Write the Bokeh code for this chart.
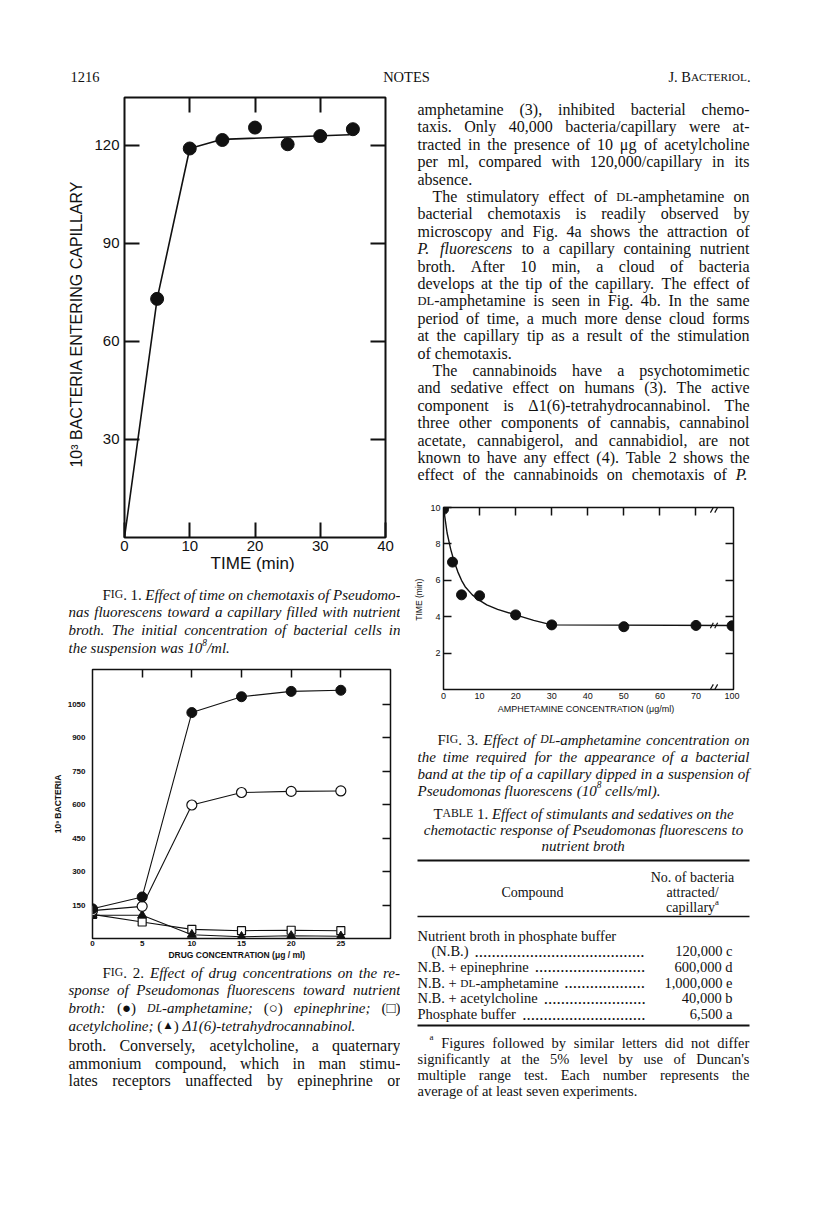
from bokeh.plotting import figure
from bokeh.models import Range1d, LinearAxis, FixedTicker
from bokeh.layouts import column, row
from bokeh.embed import file_html
from bokeh.resources import INLINE
from bokeh.core.properties import value

# ---------------- data ----------------
FIG1_TIME = [5, 10, 15, 20, 25, 30, 35]
FIG1_BACTERIA = [73, 119, 121.6, 125.4, 120.3, 122.8, 124.9]
FIG1_FIT_TIME = [0, 5, 10, 15, 34.5]
FIG1_FIT_BACTERIA = [0, 73, 119, 121.8, 123.2]
FIG1_XTICKS = [0, 10, 20, 30, 40]
FIG1_YTICKS = [30, 60, 90, 120]

FIG2_CONC = [0, 5, 10, 15, 20, 25]
FIG2_AMPHETAMINE = [133, 186, 1012, 1083, 1107, 1112]
FIG2_EPINEPHRINE = [125, 144, 598, 654, 659, 661]
FIG2_ACETYLCHOLINE = [108, 74, 41, 35, 37, 35]
FIG2_THC = [104, 104, 17, 8, 12, 10]
FIG2_XTICKS = [0, 5, 10, 15, 20, 25]
FIG2_YTICKS = [150, 300, 450, 600, 750, 900, 1050]

FIG3_CONC = [0, 2.5, 5, 10, 20, 30, 50, 70, 100]
FIG3_TIME = [9.9, 7.0, 5.2, 5.15, 4.1, 3.55, 3.45, 3.52, 3.5]
FIG3_FIT_CONC = [0, 1, 2, 3, 4, 5, 6, 8, 10, 12, 15, 20, 25, 30, 100]
FIG3_FIT_TIME = [10, 8.6, 7.7, 7.0, 6.45, 6.0, 5.65, 5.2, 4.9, 4.65, 4.4, 4.1, 3.8, 3.55, 3.52]
FIG3_XTICKS = [0, 10, 20, 30, 40, 50, 60, 70, 100]
FIG3_YTICKS = [2, 4, 6, 8, 10]
FIG3_BREAK = 75

TABLE_COMPOUNDS = ["Nutrient broth in phosphate buffer", "(N.B.)", "N.B. + epinephrine",
                   "N.B. + ~DL~-amphetamine", "N.B. + acetylcholine", "Phosphate buffer"]
TABLE_VALUES = [None, "120,000 c", "600,000 d", "1,000,000 e", "40,000 b", "6,500 a"]


def bx(c):
    """broken x axis of Fig. 3: 0-70 linear, 100 drawn at 80"""
    return c if c <= 70 else 70 + (c - 70) * 10.0 / 30.0


# ---------------- text engine (Times metrics) ----------------
_R = {' ': 250, '!': 333, '%': 833, "'": 180, '(': 333, ')': 333, '+': 564, ',': 250, '-': 333,
      '.': 250, '/': 278, ':': 278, ';': 278,
      'A': 722, 'B': 667, 'C': 667, 'D': 722, 'E': 611, 'F': 556, 'G': 722, 'H': 722, 'I': 333,
      'J': 389, 'K': 722, 'L': 611, 'M': 889, 'N': 722, 'O': 722, 'P': 556, 'Q': 722, 'R': 667,
      'S': 556, 'T': 611, 'U': 722, 'V': 722, 'W': 944, 'X': 722, 'Y': 722, 'Z': 611,
      'a': 444, 'b': 500, 'c': 444, 'd': 500, 'e': 444, 'f': 333, 'g': 500, 'h': 500, 'i': 278,
      'j': 278, 'k': 500, 'l': 278, 'm': 778, 'n': 500, 'o': 500, 'p': 500, 'q': 500, 'r': 333,
      's': 389, 't': 278, 'u': 500, 'v': 500, 'w': 722, 'x': 500, 'y': 500, 'z': 444,
      'μ': 576, 'Δ': 612, '●': 604, '○': 604, '□': 604, '▲': 990}
_I = {' ': 250, '(': 333, ')': 333, ',': 250, '-': 333, '.': 250, '/': 278, ':': 333, ';': 333,
      'A': 611, 'B': 611, 'C': 667, 'D': 722, 'E': 611, 'F': 611, 'G': 722, 'H': 722, 'I': 333,
      'J': 444, 'K': 667, 'L': 556, 'M': 833, 'N': 667, 'O': 722, 'P': 611, 'Q': 722, 'R': 611,
      'S': 500, 'T': 556, 'U': 722, 'V': 611, 'W': 833, 'X': 611, 'Y': 556, 'Z': 556,
      'a': 500, 'b': 500, 'c': 444, 'd': 500, 'e': 444, 'f': 278, 'g': 500, 'h': 500, 'i': 278,
      'j': 278, 'k': 444, 'l': 278, 'm': 722, 'n': 500, 'o': 500, 'p': 500, 'q': 500, 'r': 389,
      's': 389, 't': 278, 'u': 500, 'v': 444, 'w': 667, 'x': 444, 'y': 444, 'z': 389,
      'μ': 576, 'Δ': 612}

SERIF = "Liberation Serif"
SANS = "Liberation Sans"
INK = "#111111"


def cw(ch, it):
    t = _I if it else _R
    return t.get(ch, _R.get(ch, 500))


def parse(s):
    words, cur, buf = [], [], []
    st = {'it': False, 'sup': False, 'sc': False}

    def flush():
        if buf:
            cur.append((''.join(buf), st['it'], st['sup'], st['sc']))
            buf.clear()
    for ch in s:
        if ch in '_^~':
            flush()
            key = {'_': 'it', '^': 'sup', '~': 'sc'}[ch]
            st[key] = not st[key]
        elif ch == ' ':
            flush()
            if cur:
                words.append(list(cur))
                cur.clear()
        else:
            buf.append(ch)
    flush()
    if cur:
        words.append(list(cur))
    return words


def run_size(fs, sup, sc):
    return fs * (0.78 if sc else 1.0) * (0.62 if sup else 1.0)


def run_w(r, fs):
    t, it, sup, sc = r
    return sum(cw(c, it) for c in t) * run_size(fs, sup, sc) / 1000.0


class Sink:
    def __init__(self):
        self.g = {}

    def add(self, x, y, t, size, it):
        key = (round(size, 1), it)
        d = self.g.setdefault(key, {'x': [], 'y': [], 't': []})
        d['x'].append(x)
        d['y'].append(y)
        d['t'].append(t)

    def draw(self, p):
        for (size, it), d in self.g.items():
            p.text(x=d['x'], y=d['y'], text=d['t'], text_font=value(SERIF),
                   text_font_size=f"{size}px", text_font_style="italic" if it else "normal",
                   text_baseline="alphabetic", text_align="left", text_color=INK)


def put(sink, s, xl, xr, y, fs, mode='justify'):
    words = parse(s)
    ws = [sum(run_w(r, fs) for r in w) for w in words]
    n = len(words) - 1
    if mode == 'justify' and n > 0:
        gap = (xr - xl - sum(ws)) / n
        if gap < 0.2 * fs:
            fs = fs * (xr - xl - 0.2 * fs * n) / sum(ws)
            ws = [sum(run_w(r, fs) for r in w) for w in words]
            gap = (xr - xl - sum(ws)) / n
        x = xl
    else:
        gap = 0.25 * fs
        tot = sum(ws) + gap * n
        x = xl if mode in ('left', 'justify') else (xr - tot if mode == 'right' else (xl + xr) / 2 - tot / 2)
    for w, wd in zip(words, ws):
        xx = x
        for r in w:
            t, it, sup, sc = r
            sz = run_size(fs, sup, sc)
            sink.add(xx, y - (0.38 * fs if sup else 0), t, sz, it)
            xx += run_w(r, fs)
        x += wd + gap
    return x - gap


def text_fig(x0, y0, w, h):
    p = figure(width=w, height=h, x_range=Range1d(x0, x0 + w), y_range=Range1d(y0 + h, y0),
               x_axis_type=None, y_axis_type=None, toolbar_location=None,
               output_backend="svg", min_border=0, frame_align=False)
    p.outline_line_color = None
    p.background_fill_color = "white"
    p.border_fill_color = "white"
    return p


def style_axis(ax, ticks, tin, lw, size, font, show=True, standoff=4, bold=False):
    ax.ticker = FixedTicker(ticks=ticks)
    ax.major_tick_in = tin
    ax.major_tick_out = 0
    ax.major_tick_line_width = lw
    ax.major_tick_line_color = INK if tin else None
    ax.minor_tick_line_color = None
    ax.axis_line_color = None
    ax.major_label_text_font = font
    ax.major_label_text_color = INK if show else None
    ax.major_label_text_font_style = "bold" if bold else "normal"
    ax.major_label_text_font_size = size if show else "1px"
    ax.major_label_standoff = standoff if show else 0
    ax.axis_label_text_font = font
    ax.axis_label_text_font_style = "normal"
    ax.axis_label_text_color = INK


def chart(w, h, xr, yr, ml, mr, mt, mb, lw):
    p = figure(width=w, height=h, x_range=Range1d(*xr), y_range=Range1d(*yr),
               toolbar_location=None, output_backend="svg", frame_align=False,
               min_border_left=ml, min_border_right=mr, min_border_top=mt, min_border_bottom=mb)
    p.xgrid.visible = False
    p.ygrid.visible = False
    p.outline_line_color = INK
    p.outline_line_width = lw
    p.outline_line_alpha = 1.0
    p.background_fill_color = "white"
    p.border_fill_color = "white"
    return p


# ---------------- header ----------------
hdr = text_fig(8, 8, 800, 88)
s = Sink()
put(s, "1216", 78, 200, 84, 14.5, 'left')
put(s, "NOTES", 314, 514, 84, 14.5, 'center')
put(s, "J. B~ACTERIOL~.", 600, 758, 84, 14.5, 'right')
s.draw(hdr)

# ---------------- Fig. 1 ----------------
f1 = chart(400, 494, (0, 40), (0, 134.6), 124, 15, 9, 45, 2)
style_axis(f1.xaxis[0], FIG1_XTICKS, 15, 2, "15px", SANS, standoff=3)
style_axis(f1.yaxis[0], FIG1_YTICKS, 15, 2, "15px", SANS, standoff=5)
f1.xaxis[0].axis_label = "TIME  (min)"
f1.xaxis[0].axis_label_text_font_size = "17px"
f1.xaxis[0].axis_label_standoff = 0
f1.yaxis[0].axis_label = "10³  BACTERIA  ENTERING  CAPILLARY"
f1.yaxis[0].axis_label_text_font_size = "16px"
f1.yaxis[0].axis_label_standoff = 6
ax = LinearAxis()
style_axis(ax, FIG1_XTICKS[1:-1], 15, 2, "1px", SANS, show=False)
f1.add_layout(ax, "above")
ax = LinearAxis()
style_axis(ax, FIG1_YTICKS, 15, 2, "1px", SANS, show=False)
f1.add_layout(ax, "right")
f1.line(FIG1_FIT_TIME, FIG1_FIT_BACTERIA, line_color=INK, line_width=1.6)
f1.scatter(FIG1_TIME, FIG1_BACTERIA, size=13, marker="circle", fill_color=INK, line_color=INK)

# ---------------- Fig. 1 caption ----------------
c1 = text_fig(8, 590, 400, 74)
s = Sink()
L, Rr, fs = 76, 408, 15
cap1 = [("F~IG~. 1. _Effect of time on chemotaxis of Pseudomo-_", 'justify', 34),
        ("_nas fluorescens toward a capillary filled with nutrient_", 'justify', 0),
        ("_broth. The initial concentration of bacterial cells in_", 'justify', 0),
        ("_the suspension was 10^8^/ml._", 'left', 0)]
for i, (t, m, ind) in enumerate(cap1):
    put(s, t, L + ind, Rr, 602 + 17.8 * i, fs, m)
s.draw(c1)

# ---------------- Fig. 2 ----------------
f2 = chart(400, 306, (0, 30), (0, 1205), 92, 10, 13, 23, 1.5)
style_axis(f2.xaxis[0], FIG2_XTICKS, 0, 1.5, "8px", SANS, standoff=2, bold=True)
style_axis(f2.yaxis[0], FIG2_YTICKS, 0, 1.5, "8px", SANS, standoff=7, bold=True)
f2.xaxis[0].axis_label = "DRUG   CONCENTRATION   (μg / ml)"
f2.xaxis[0].axis_label_text_font_size = "8.5px"
f2.xaxis[0].axis_label_text_font_style = "bold"
f2.xaxis[0].axis_label_standoff = 1
f2.yaxis[0].axis_label = "10³ BACTERIA"
f2.yaxis[0].axis_label_text_font_size = "8.5px"
f2.yaxis[0].axis_label_text_font_style = "bold"
f2.yaxis[0].axis_label_standoff = 2
ax = LinearAxis()
style_axis(ax, FIG2_XTICKS[1:], 8, 1.5, "1px", SANS, show=False)
f2.add_layout(ax, "above")
ax = LinearAxis()
style_axis(ax, FIG2_YTICKS, 8, 1.5, "1px", SANS, show=False)
f2.add_layout(ax, "right")
for ys in (FIG2_THC, FIG2_ACETYLCHOLINE, FIG2_EPINEPHRINE, FIG2_AMPHETAMINE):
    f2.line(FIG2_CONC, ys, line_color=INK, line_width=1.1)
f2.scatter(FIG2_CONC, FIG2_ACETYLCHOLINE, marker="square", size=8, fill_color="white", line_color=INK, line_width=1.2)
f2.scatter(FIG2_CONC, FIG2_THC, marker="triangle", size=9, fill_color=INK, line_color=INK)
f2.scatter(FIG2_CONC, FIG2_EPINEPHRINE, marker="circle", size=10, fill_color="white", line_color=INK, line_width=1.2)
f2.scatter(FIG2_CONC, FIG2_AMPHETAMINE, marker="circle", size=10, fill_color=INK, line_color=INK)

# ---------------- Fig. 2 caption + text ----------------
t2 = text_fig(8, 970, 400, 239)
s = Sink()
cap2 = [("F~IG~. 2. _Effect of drug concentrations on the re-_", 'justify', 34),
        ("_sponse of Pseudomonas fluorescens toward nutrient_", 'justify', 0),
        ("_broth:_ (●) _~DL~-amphetamine;_ (○) _epinephrine;_ (□)", 'justify', 0),
        ("_acetylcholine;_ (~▲~) _Δ1(6)-tetrahydrocannabinol._", 'left', 0)]
for i, (t, m, ind) in enumerate(cap2):
    put(s, t, L + ind, Rr, 980 + 17.8 * i, fs, m)
body_l = ["broth. Conversely, acetylcholine, a quaternary",
          "ammonium compound, which in man stimu-",
          "lates receptors unaffected by epinephrine or"]
for i, t in enumerate(body_l):
    put(s, t, L, Rr, 1053 + 17.5 * i, 16, 'justify')
s.draw(t2)

# ---------------- right column text ----------------
RL, RR = 425, 757
t3 = text_fig(408, 96, 400, 394)
s = Sink()
body_r = [("amphetamine (3), inhibited bacterial chemo-", 'justify', 0),
          ("taxis. Only 40,000 bacteria/capillary were at-", 'justify', 0),
          ("tracted in the presence of 10 μg of acetylcholine", 'justify', 0),
          ("per ml, compared with 120,000/capillary in its", 'justify', 0),
          ("absence.", 'left', 0),
          ("The stimulatory effect of ~DL~-amphetamine on", 'justify', 15),
          ("bacterial chemotaxis is readily observed by", 'justify', 0),
          ("microscopy and Fig. 4a shows the attraction of", 'justify', 0),
          ("_P. fluorescens_ to a capillary containing nutrient", 'justify', 0),
          ("broth. After 10 min, a cloud of bacteria", 'justify', 0),
          ("develops at the tip of the capillary. The effect of", 'justify', 0),
          ("~DL~-amphetamine is seen in Fig. 4b. In the same", 'justify', 0),
          ("period of time, a much more dense cloud forms", 'justify', 0),
          ("at the capillary tip as a result of the stimulation", 'justify', 0),
          ("of chemotaxis.", 'left', 0),
          ("The cannabinoids have a psychotomimetic", 'justify', 15),
          ("and sedative effect on humans (3). The active", 'justify', 0),
          ("component is Δ1(6)-tetrahydrocannabinol. The", 'justify', 0),
          ("three other components of cannabis, cannabinol", 'justify', 0),
          ("acetate, cannabigerol, and cannabidiol, are not", 'justify', 0),
          ("known to have any effect (4). Table 2 shows the", 'justify', 0),
          ("effect of the cannabinoids on chemotaxis of _P._", 'justify', 0)]
for i, (t, m, ind) in enumerate(body_r):
    put(s, t, RL + ind, RR, 117 + 17.4 * i, 16, m)
s.draw(t3)

# ---------------- Fig. 3 ----------------
f3 = chart(400, 235, (0, 80.4), (0, 10), 43, 67, 25, 28, 1.5)
style_axis(f3.xaxis[0], [bx(v) for v in FIG3_XTICKS], 0, 1.5, "9px", SANS, standoff=3)
f3.xaxis[0].major_label_overrides = {bx(v): str(v) for v in FIG3_XTICKS}
style_axis(f3.yaxis[0], FIG3_YTICKS, 8, 1.5, "9px", SANS, standoff=3)
f3.xaxis[0].axis_label = "AMPHETAMINE  CONCENTRATION  (μg/ml)"
f3.xaxis[0].axis_label_text_font_size = "9px"
f3.xaxis[0].axis_label_standoff = 2
f3.yaxis[0].axis_label = "TIME  (min)"
f3.yaxis[0].axis_label_text_font_size = "8.5px"
f3.yaxis[0].axis_label_standoff = 3
ax = LinearAxis()
style_axis(ax, [bx(v) for v in FIG3_XTICKS[1:-1]], 8, 1.5, "1px", SANS, show=False)
f3.add_layout(ax, "above")
ax = LinearAxis()
style_axis(ax, FIG3_YTICKS[:-1], 8, 1.5, "1px", SANS, show=False)
f3.add_layout(ax, "right")
f3.line([bx(c) for c in FIG3_FIT_CONC], FIG3_FIT_TIME, line_color=INK, line_width=1.4)
f3.scatter([bx(c) for c in FIG3_CONC], FIG3_TIME, marker="circle", size=10, fill_color=INK, line_color=INK)
yb = FIG3_FIT_TIME[-1]
# axis-break marks "//" on the curve and on the top and bottom frame edges
bk_y0 = [yb - 0.15, yb - 0.15, 9.72, 9.72, 0.0, 0.0]
bk_y1 = [yb + 0.15, yb + 0.15, 10.0, 10.0, 0.28, 0.28]
f3.segment(x0=[FIG3_BREAK - 1.0, FIG3_BREAK + 0.2] * 3, y0=bk_y0,
           x1=[FIG3_BREAK - 0.2, FIG3_BREAK + 1.0] * 3, y1=bk_y1,
           line_color=INK, line_width=1.2)

# ---------------- Fig. 3 caption, table, footnote ----------------
t4 = text_fig(408, 725, 400, 484)
s = Sink()
cap3 = [("F~IG~. 3. _Effect of ~DL~-amphetamine concentration on_", 'justify', 20),
        ("_the time required for the appearance of a bacterial_", 'justify', 0),
        ("_band at the tip of a capillary dipped in a suspension of_", 'justify', 0),
        ("_Pseudomonas fluorescens (10^8^ cells/ml)._", 'left', 0)]
for i, (t, m, ind) in enumerate(cap3):
    put(s, t, RL + ind, RR, 747 + 17.0 * i, 15, m)
ttl = ["T~ABLE~ 1. _Effect of stimulants and sedatives on the_",
       "_chemotactic response of Pseudomonas fluorescens to_",
       "_nutrient broth_"]
for i, t in enumerate(ttl):
    put(s, t, RL, RR, 821 + 16.3 * i, 15, 'center')
put(s, "Compound", 470, 610, 900, 14, 'center')
for i, t in enumerate(["No. of bacteria", "attracted/", "capillary^a^"]):
    put(s, t, 650, 750, 885 + 15 * i, 14, 'center')
for i, (cmp, val) in enumerate(zip(TABLE_COMPOUNDS, TABLE_VALUES)):
    y = 943 + 15.7 * i
    ind = 14 if cmp.startswith("(") else 0
    end = put(s, cmp, RL + ind, RR, y, 14.5, 'left')
    if val is not None:
        n = int((654 - end - 6) / 4.25)
        s.add(end + 6, y, "." * n, 17, False)
        put(s, val, 600, 740, y, 14.5, 'right')
foot = [("^a^ Figures followed by similar letters did not differ", 'justify', 12),
        ("significantly at the 5% level by use of Duncan's", 'justify', 0),
        ("multiple range test. Each number represents the", 'justify', 0),
        ("average of at least seven experiments.", 'left', 0)]
for i, (t, m, ind) in enumerate(foot):
    put(s, t, RL + ind, RR, 1050 + 16 * i, 14.5, m)
s.draw(t4)
t4.segment(x0=[RL, RL, RL], y0=[868, 924, 1033], x1=[RR, RR, RR], y1=[868, 924, 1033],
           line_color=INK, line_width=[2, 1.5, 2])

layout = column(hdr, row(column(f1, c1, f2, t2), column(t3, f3, t4)))
open("out.html", "w").write(file_html(layout, INLINE))
